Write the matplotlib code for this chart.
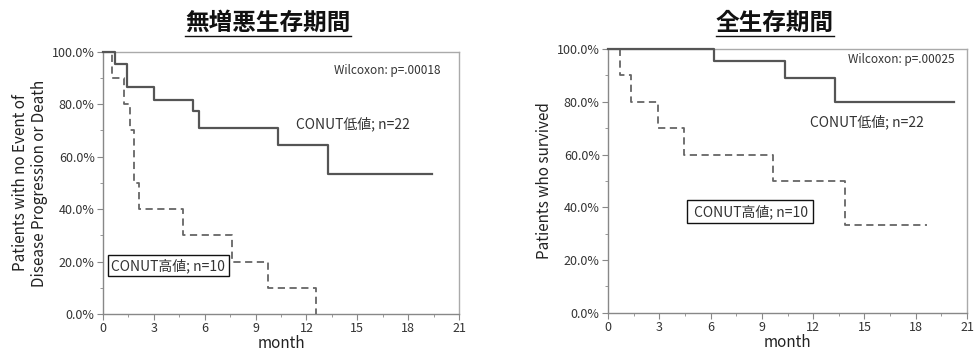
import matplotlib
matplotlib.use("Agg")
import matplotlib.pyplot as plt
from matplotlib.ticker import PercentFormatter, MultipleLocator

plt.rcParams['font.family'] = ['Noto Sans CJK JP', 'DejaVu Sans']

# 無増悪生存期間 (PFS)
pfs_low_t = [0, 0.73, 1.42, 3.0, 5.3, 5.65, 10.34, 13.27, 19.43]
pfs_low_s = [1.0, 0.955, 0.864, 0.818, 0.773, 0.709, 0.643, 0.535, 0.535]
pfs_high_t = [0, 0.51, 1.22, 1.57, 1.83, 2.12, 4.7, 7.61, 9.73, 12.54]
pfs_high_s = [1.0, 0.9, 0.8, 0.7, 0.5, 0.4, 0.3, 0.2, 0.1, 0.0]

# 全生存期間 (OS)
os_low_t = [0, 6.21, 10.37, 13.28, 20.26]
os_low_s = [1.0, 0.955, 0.889, 0.80, 0.80]
os_high_t = [0, 0.72, 1.37, 2.93, 4.45, 9.67, 13.87, 18.66]
os_high_s = [1.0, 0.9, 0.8, 0.7, 0.6, 0.5, 0.333, 0.333]

titles = ["無増悪生存期間", "全生存期間"]
ylabels = ["Patients with no Event of\nDisease Progression or Death", "Patients who survived"]
pvals = ["Wilcoxon: p=.00018", "Wilcoxon: p=.00025"]
low_label = "CONUT低値; n=22"
high_label = "CONUT高値; n=10"

fig = plt.figure(figsize=(9.76, 3.6), dpi=100)
ax1 = fig.add_axes([0.1055, 0.128, 0.3648, 0.728])
ax2 = fig.add_axes([0.623, 0.131, 0.3678, 0.733])

curves = [(pfs_low_t, pfs_low_s, pfs_high_t, pfs_high_s),
          (os_low_t, os_low_s, os_high_t, os_high_s)]

for i, ax in enumerate([ax1, ax2]):
    lt, ls, ht, hs = curves[i]
    ax.step(lt, ls, where="post", color="#555555", lw=1.6, zorder=4, clip_on=False)
    ax.step(ht, hs, where="post", color="#666666", lw=1.3, ls=(0, (4, 2.5)), zorder=3, clip_on=False)
    ax.set_xlim(0, 21)
    ax.set_ylim(0, 1.0)
    ax.xaxis.set_major_locator(MultipleLocator(3))
    ax.xaxis.set_minor_locator(MultipleLocator(1.5))
    ax.yaxis.set_major_locator(MultipleLocator(0.2))
    ax.yaxis.set_minor_locator(MultipleLocator(0.1))
    ax.yaxis.set_major_formatter(PercentFormatter(1.0, decimals=1))
    ax.tick_params(which="both", direction="out", colors="#888888", labelcolor="#333333", labelsize=9)
    ax.tick_params(which="major", length=4, pad=2)
    ax.tick_params(which="minor", length=2.5)
    for sp in ax.spines.values():
        sp.set_color("#aaaaaa")
        sp.set_linewidth(1.0)
    ax.spines["left"].set_color("#888888")
    ax.spines["bottom"].set_color("#888888")
    ax.set_xlabel("month", fontsize=11, color="#222222", labelpad=0)
    ax.set_ylabel(ylabels[i], fontsize=11, color="#222222", labelpad=3, linespacing=1.1)
    ax.text(0.949 if i == 0 else 0.965, 0.93 if i == 0 else 0.96, pvals[i], transform=ax.transAxes,
            ha="right", va="center", fontsize=8.5, color="#333333")

# series labels
ax1.text(14.75, 0.725, low_label, ha="center", va="center", fontsize=10, color="#333333")
ax2.text(15.15, 0.725, low_label, ha="center", va="center", fontsize=10, color="#333333")
ax1.text(3.85, 0.185, high_label, ha="center", va="center", fontsize=10, color="#333333",
         bbox=dict(boxstyle="square,pad=0.25", fc="white", ec="#111111", lw=1.0))
ax2.text(8.3, 0.383, " " + high_label, ha="center", va="center", fontsize=10, color="#333333",
         bbox=dict(boxstyle="square,pad=0.3", fc="white", ec="#111111", lw=1.0))

# underlined titles
renderer = fig.canvas.get_renderer()
for cx, t in [(268 / 976, titles[0]), (775 / 976, titles[1])]:
    txt = fig.text(cx, 1 - 23 / 360, t, ha="center", va="center", fontsize=17,
                   fontweight="bold", color="#111111")
    bb = txt.get_window_extent(renderer).transformed(fig.transFigure.inverted())
    fig.add_artist(plt.Line2D([bb.x0, bb.x1], [bb.y0 - 0.002, bb.y0 - 0.002],
                              transform=fig.transFigure, color="#111111", lw=1.0))

fig.savefig("out.png", dpi=100)
